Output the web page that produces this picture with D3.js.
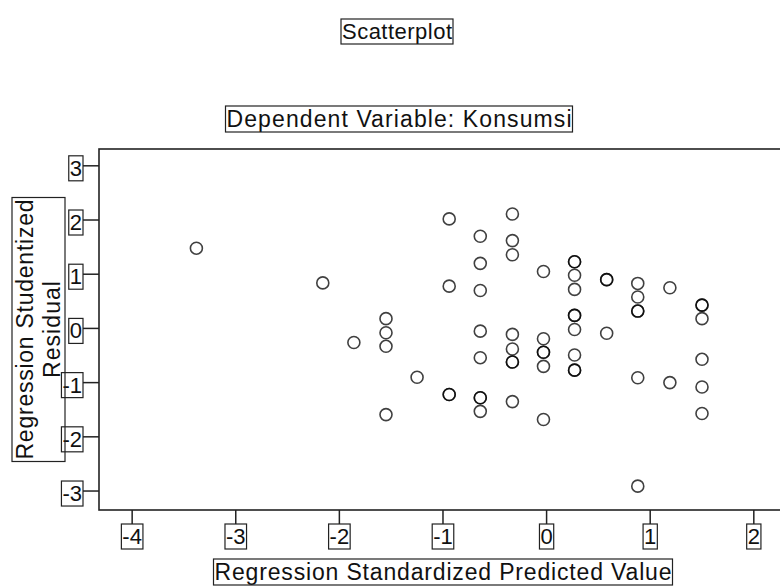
<!DOCTYPE html>
<html lang="en">
<head>
<meta charset="UTF-8">
<title>Scatterplot - Dependent Variable: Konsumsi</title>
<script src="https://d3js.org/d3.v7.min.js"></script>
<style>
    body { margin: 0; background: #fff; }
    svg text { font-family: "Liberation Sans", Arial, sans-serif; fill: #111; }
    .box { fill: none; stroke: #222; stroke-width: 1.2; }
    .dot { fill: none; stroke: #000; stroke-opacity: 0.75; stroke-width: 1.6; }
</style>
</head>
<body>
<div id="chart"></div>
<script>
    // Regression Standardized Predicted Value (x) per case
    const predicted = [
        -3.38, -2.16, -1.86, -1.55, -1.55, -1.55, -1.25, -1.55,
        -0.94, -0.94, -0.94, -0.94,
        -0.64, -0.64, -0.64, -0.64, -0.64, -0.64, -0.64, -0.64,
        -0.33, -0.33, -0.33, -0.33, -0.33, -0.33, -0.33, -0.33,
        -0.03, -0.03, -0.03, -0.03, -0.03, -0.03,
        0.27, 0.27, 0.27, 0.27, 0.27, 0.27, 0.27, 0.27, 0.27, 0.27,
        0.58, 0.58, 0.58,
        0.88, 0.88, 0.88, 0.88, 0.88, 0.88,
        1.19, 1.19,
        1.50, 1.50, 1.50, 1.50, 1.50, 1.50
    ];
    // Regression Studentized Residual (y) per case
    const residual = [
        1.48, 0.84, -0.26, 0.18, -0.08, -0.33, -0.90, -1.59,
        2.02, 0.78, -1.22, -1.22,
        1.70, 1.20, 0.70, -0.05, -0.54, -1.28, -1.28, -1.53,
        2.11, 1.62, 1.36, -0.11, -0.38, -0.62, -0.62, -1.35,
        1.05, -0.19, -0.44, -0.44, -0.70, -1.68,
        1.23, 1.23, 0.98, 0.72, 0.24, 0.24, -0.02, -0.49, -0.77, -0.77,
        0.90, 0.90, -0.09,
        0.83, 0.58, 0.32, 0.32, -0.91, -2.91,
        0.75, -1.00,
        0.43, 0.43, 0.18, -0.57, -1.08, -1.57
    ];
    const xTicks = [-4, -3, -2, -1, 0, 1, 2];
    const yTicks = [3, 2, 1, 0, -1, -2, -3];

    const width = 780, height = 587;
    const plotLeft = 99, plotTop = 149, plotRight = 788, plotBottom = 510;

    const svg = d3.select("#chart").append("svg")
        .attr("width", width)
        .attr("height", height);

    const x = d3.scaleLinear().domain([-4.32, 2.33]).range([plotLeft, plotRight]);
    const y = d3.scaleLinear().domain([-3.35, 3.31]).range([plotBottom, plotTop]);

    // tick labels use a plain hyphen like the original, not the unicode minus
    const fmt = v => String(v);

    // draws a text and a thin box round it (the boxes are part of the original picture)
    function boxedText(g, str, px, py, size, len, anchor) {
        const t = g.append("text")
            .attr("x", px).attr("y", py)
            .attr("font-size", size)
            .attr("text-anchor", anchor || "middle")
            .text(str);
        if (len) t.attr("textLength", len).attr("lengthAdjust", "spacing");
        const b = t.node().getBBox();
        g.append("rect").attr("class", "box")
            .attr("x", b.x - 1).attr("y", b.y)
            .attr("width", b.width + 2).attr("height", b.height);
        return t;
    }

    boxedText(svg, "Scatterplot", 397, 39, 22, 110);
    boxedText(svg, "Dependent Variable: Konsumsi", 399, 127, 23, 345);

    // frame (right side runs past the window edge)
    svg.append("rect")
        .attr("x", plotLeft).attr("y", plotTop)
        .attr("width", plotRight - plotLeft).attr("height", plotBottom - plotTop)
        .attr("fill", "none").attr("stroke", "#222").attr("stroke-width", 1.6);

    // x axis ticks and labels
    const gx = svg.append("g");
    xTicks.forEach(v => {
        gx.append("line")
            .attr("x1", x(v)).attr("x2", x(v))
            .attr("y1", plotBottom).attr("y2", plotBottom + 14)
            .attr("stroke", "#222").attr("stroke-width", 1.5);
        boxedText(gx, fmt(v), x(v), 544, 22);
    });

    // y axis ticks and labels
    const gy = svg.append("g");
    yTicks.forEach(v => {
        gy.append("line")
            .attr("x1", plotLeft - 16).attr("x2", plotLeft)
            .attr("y1", y(v)).attr("y2", y(v))
            .attr("stroke", "#222").attr("stroke-width", 1.5);
        boxedText(gy, fmt(v), plotLeft - 17, y(v) + 10, 22, null, "end");
    });

    // axis titles
    boxedText(svg, "Regression Standardized Predicted Value", 443, 580, 23, 457);

    const gt = svg.append("g").attr("transform", "rotate(-90)");
    gt.append("text").attr("x", -329.5).attr("y", 33)
        .attr("font-size", 23).attr("text-anchor", "middle")
        .attr("textLength", 260).attr("lengthAdjust", "spacing")
        .text("Regression Studentized");
    gt.append("text").attr("x", -329.5).attr("y", 60)
        .attr("font-size", 23).attr("text-anchor", "middle")
        .attr("textLength", 97).attr("lengthAdjust", "spacing")
        .text("Residual");
    const tb = gt.node().getBBox();
    gt.append("rect").attr("class", "box")
        .attr("x", tb.x - 2).attr("y", tb.y)
        .attr("width", tb.width + 4).attr("height", tb.height);

    // points
    const data = predicted.map((p, i) => ({ p: p, r: residual[i] }));
    svg.append("g").selectAll("circle")
        .data(data)
        .join("circle")
        .attr("class", "dot")
        .attr("cx", d => x(d.p))
        .attr("cy", d => y(d.r))
        .attr("r", 6);
</script>
</body>
</html>
